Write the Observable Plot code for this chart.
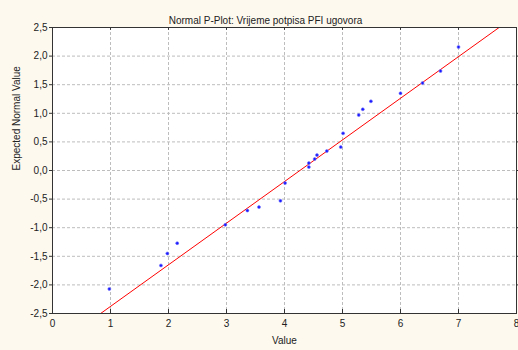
<!DOCTYPE html>
<html>
<head>
<meta charset="utf-8">
<script src="https://cdn.jsdelivr.net/npm/d3@7"></script>
<script src="https://cdn.jsdelivr.net/npm/@observablehq/plot@0.6"></script>
<style>
  html, body { margin: 0; padding: 0; background: #fdf9ef; }
  svg { display: block; }
</style>
</head>
<body>
<div id="chart"></div>
<script>
// Observed values (x) and expected normal values (y)
const values   = [0.98, 1.87, 1.98, 2.15, 2.98, 3.36, 3.56, 3.93, 4.01, 4.42, 4.42, 4.52, 4.56, 4.73, 4.97, 5.01, 5.28, 5.35, 5.49, 6.00, 6.38, 6.69, 7.00];
const expected = [-2.07, -1.66, -1.45, -1.27, -0.95, -0.70, -0.64, -0.53, -0.22, 0.06, 0.13, 0.20, 0.27, 0.34, 0.41, 0.65, 0.97, 1.07, 1.21, 1.35, 1.53, 1.74, 2.16];
// Reference line endpoints (value, expected normal)
const lineX = [0.83, 7.70];
const lineY = [-2.5, 2.5];
const xTicks = [0, 1, 2, 3, 4, 5, 6, 7, 8];
const yTicks = [-2.5, -2.0, -1.5, -1.0, -0.5, 0.0, 0.5, 1.0, 1.5, 2.0, 2.5];
const titleText = "Normal P-Plot: Vrijeme potpisa PFI ugovora";
const xLabel = "Value";
const yLabel = "Expected Normal Value";

const points = values.map((v, i) => ({x: v, y: expected[i]}));
const line = lineX.map((v, i) => ({x: v, y: lineY[i]}));
const fmt = d => d.toFixed(1).replace(".", ",");

const chart = Plot.plot({
  width: 518,
  height: 350,
  marginTop: 27,
  marginBottom: 37,
  marginLeft: 52,
  marginRight: 2,
  style: {background: "#fdf9ef", fontFamily: "Liberation Sans, Arial, sans-serif", fontSize: "10px", color: "#222"},
  x: {domain: [0, 8], ticks: xTicks},
  y: {domain: [-2.5, 2.5], ticks: yTicks},
  marks: [
    Plot.frame({fill: "white", stroke: null}),
    Plot.gridX(xTicks.slice(1, -1), {stroke: "#bdbdbd", strokeOpacity: 1, strokeDasharray: "3,2"}),
    Plot.gridY(yTicks.slice(1, -1), {stroke: "#bdbdbd", strokeOpacity: 1, strokeDasharray: "3,2"}),
    Plot.line(line, {x: "x", y: "y", stroke: "#ff0000", strokeWidth: 1, clip: true}),
    Plot.dot(points, {x: "x", y: "y", r: 1.5, fill: "#1a1aff", stroke: "#7070ff", strokeWidth: 0.6}),
    Plot.frame({stroke: "#333", strokeWidth: 1}),
    Plot.axisX({ticks: xTicks, tickSize: 0, tickPadding: 6, tickFormat: d => String(d), label: null, fill: "#222"}),
    Plot.ruleX(xTicks.slice(1, -1), {x: d => d, y1: -2.5, y2: -2.43, stroke: "#333"}),
    Plot.ruleX(xTicks.slice(1, -1), {x: d => d, y1: 2.5, y2: 2.45, stroke: "#333"}),
    Plot.axisY({ticks: yTicks, tickSize: 3, tickPadding: 2, tickFormat: fmt, label: null, fill: "#222", stroke: "#333"}),
    Plot.axisY({anchor: "right", ticks: yTicks.slice(1, -1), tickSize: 3, tickFormat: () => "", label: null, stroke: "#333"}),
    Plot.text([titleText], {frameAnchor: "top", dy: -11, text: d => d, fontSize: 10, fill: "#222", dx: -19}),
    Plot.text([xLabel], {frameAnchor: "bottom", dy: 30, text: d => d, fontSize: 10, fill: "#222"}),
    Plot.text([yLabel], {frameAnchor: "left", dx: -36, rotate: -90, text: d => d, fontSize: 10, fill: "#222"})
  ]
});
document.getElementById("chart").appendChild(chart);
</script>
</body>
</html>
